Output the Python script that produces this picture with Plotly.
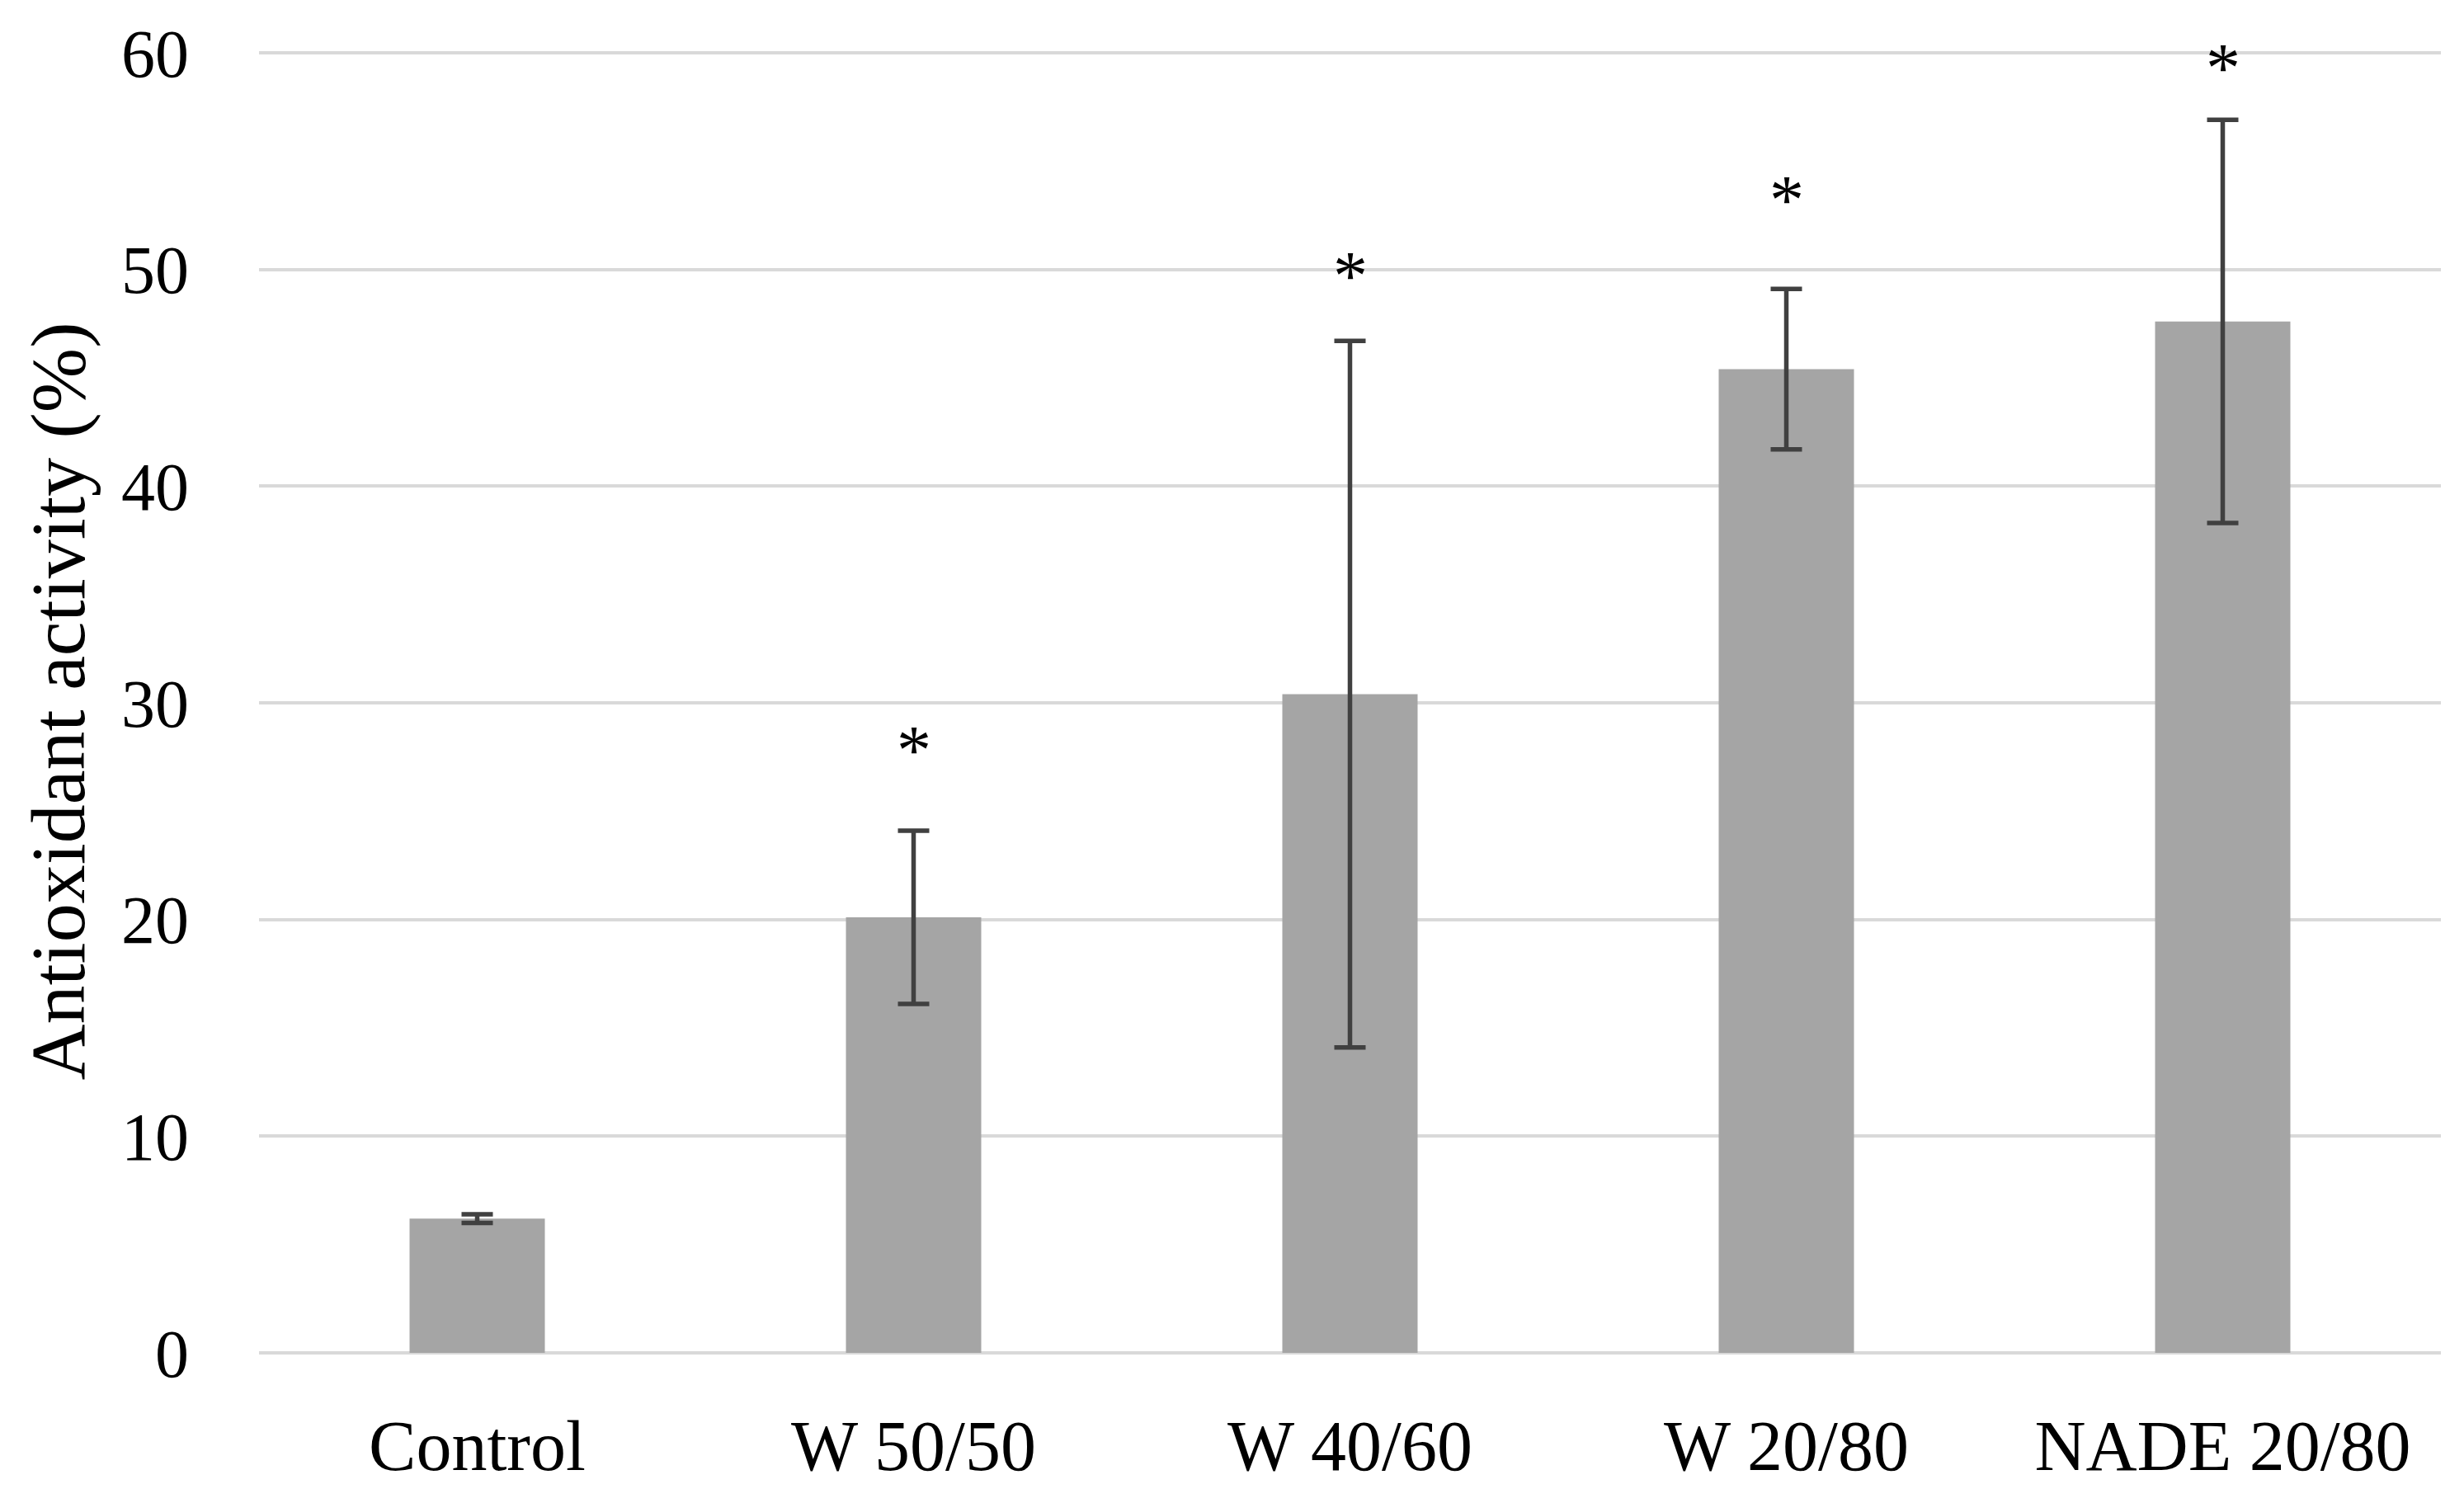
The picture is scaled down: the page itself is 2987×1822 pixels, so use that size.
import plotly.graph_objects as go

categories = ["Control", "W 50/50", "W 40/60", "W 20/80", "NADE 20/80"]
values = [6.2, 20.1, 30.4, 45.4, 47.6]
errors = [0.2, 4.0, 16.3, 3.7, 9.3]
sig_labels = ["", "*", "*", "*", "*"]
sig_y = [None, 27.8, 49.7, 53.2, 59.3]
y_ticks = [0, 10, 20, 30, 40, 50, 60]

FONT = "Liberation Serif"

fig = go.Figure()
fig.add_trace(go.Bar(
    x=categories, y=values,
    marker=dict(color="#a5a5a5", line=dict(width=0)),
    width=0.31,
    error_y=dict(type="data", array=errors, visible=True,
                 color="#404040", thickness=5.5, width=19),
    showlegend=False,
))

for c, lab, yy in zip(categories, sig_labels, sig_y):
    if lab:
        fig.add_annotation(x=c, y=yy, text=lab, showarrow=False,
                           font=dict(family=FONT, size=84, color="#000000"),
                           xanchor="center", yanchor="middle")

fig.update_layout(
    width=2987, height=1822,
    margin=dict(l=306, r=36, t=52, b=190),
    paper_bgcolor="white", plot_bgcolor="white",
    font=dict(family=FONT, size=80, color="#000000"),
    bargap=0.69,
)
fig.update_xaxes(showgrid=False, showline=False, zeroline=False,
                 ticks="", ticklabelstandoff=55,
                 tickfont=dict(family=FONT, size=86, color="#000000"))
fig.update_yaxes(range=[0, 60.15], tickvals=y_ticks, showgrid=True,
                 gridcolor="#d9d9d9", gridwidth=4, zeroline=True,
                 zerolinecolor="#d9d9d9", zerolinewidth=4, showline=False,
                 ticks="", ticklabelstandoff=84,
                 tickfont=dict(family=FONT, size=82, color="#000000"),
                 title=dict(text="Antioxidant activity (%)", standoff=13,
                            font=dict(family=FONT, size=94, color="#000000")))

fig.write_html("out.html")
